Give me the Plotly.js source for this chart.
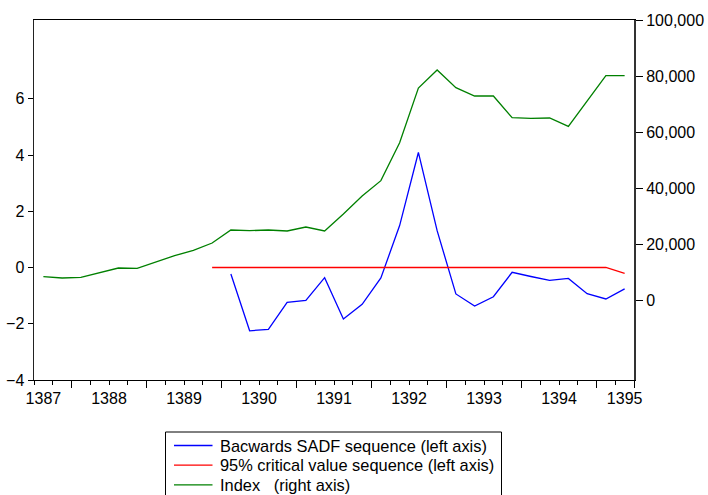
<!DOCTYPE html>
<html>
<head>
<meta charset="utf-8">
<script src="https://cdn.plot.ly/plotly-3.0.1.min.js"></script>
<style>html,body{margin:0;padding:0;background:#fff;}#chart{width:708px;height:495px;}</style>
</head>
<body>
<div id="chart"></div>
<script>
// Quarterly periods 1387Q1 .. 1394Q4
const years = [1387,1388,1389,1390,1391,1392,1393,1394];
const quarters = [];
years.forEach(y => { for (let q = 1; q <= 4; q++) quarters.push(y + 'Q' + q); });

// Index (right axis), 1387Q1 .. 1394Q4
const indexValues = [8320, 7860, 8100, 9880, 11430, 11300, 13570, 15830,
  17740, 20360, 25000, 24760, 25000, 24640, 26070, 24640,
  30710, 37140, 42620, 56180, 75710, 82140, 75830, 72860,
  72860, 65120, 64890, 65000, 62020, 71180, 80120, 80120];

// Backwards SADF sequence (left axis), 1389Q3 .. 1394Q4
const sadfStart = '1389Q3';
const sadfValues = [-0.23, -2.25, -2.20, -1.24, -1.17, -0.36, -1.83, -1.31,
  -0.37, 1.49, 4.09, 1.31, -0.94, -1.37, -1.04, -0.17,
  -0.32, -0.46, -0.39, -0.93, -1.12, -0.76];

// 95% critical value sequence (left axis), 1389Q2 .. 1394Q4
const cvStart = '1389Q2';
const cvValues = [0.0, 0.0, 0.0, 0.0, 0.0, 0.0, 0.0, 0.0, 0.0, 0.0, 0.0, 0.0,
  0.0, 0.0, 0.0, 0.0, 0.0, 0.0, 0.0, 0.0, 0.0, 0.0, -0.21];

const seriesNames = ['Bacwards SADF sequence (left axis)',
  '95% critical value sequence (left axis)',
  'Index   (right axis)'];
const seriesColors = ['#0000ff', '#ff0000', '#008000'];

const xTickLabels = ['1387','1388','1389','1390','1391','1392','1393','1394','1395'];
const leftTicks = [-4, -2, 0, 2, 4, 6];
const rightTicks = [0, 20000, 40000, 60000, 80000, 100000];

// quarter label -> position on a continuous year axis (centre of the quarter)
function qpos(label) {
  const y = parseInt(label.slice(0, 4), 10);
  const q = parseInt(label.slice(5), 10);
  return y + (q - 0.5) / 4;
}
function seriesX(start, n) {
  const i0 = quarters.indexOf(start);
  return quarters.slice(i0, i0 + n).map(qpos);
}

const xIndex = quarters.map(qpos);
const xSadf = seriesX(sadfStart, sadfValues.length);
const xCv = seriesX(cvStart, cvValues.length);

// label positions: years at year start, ends pulled onto first/last observation
const labelPos = xTickLabels.map((t, i) => {
  const v = parseInt(t, 10);
  if (i === 0) return xIndex[0];
  if (i === xTickLabels.length - 1) return xIndex[xIndex.length - 1];
  return v;
});
const midYears = years.map(y => y + 0.5).concat([1395]);

const font = {family: 'Arial, "Liberation Sans", sans-serif', size: 16, color: '#000'};
const legendFont = {family: 'Arial, "Liberation Sans", sans-serif', size: 16.4, color: '#000'};

const traces = [
  {x: xSadf, y: sadfValues, type: 'scatter', mode: 'lines', name: seriesNames[0],
   line: {color: seriesColors[0], width: 1.3}, xaxis: 'x', yaxis: 'y'},
  {x: xCv, y: cvValues, type: 'scatter', mode: 'lines', name: seriesNames[1],
   line: {color: seriesColors[1], width: 1.3}, xaxis: 'x', yaxis: 'y'},
  {x: xIndex, y: indexValues, type: 'scatter', mode: 'lines', name: seriesNames[2],
   line: {color: seriesColors[2], width: 1.3}, xaxis: 'x', yaxis: 'y2'}
];
// dummy trace to activate xaxis2 ticks
traces.push({x: [1387], y: [null], xaxis: 'x2', yaxis: 'y', showlegend: false, hoverinfo: 'skip', mode: 'lines'});

// legend box drawn in pixel terms (EViews style), converted to paper coords
const M = {l: 34, r: 74, t: 20, b: 115};
const W = 708, H = 495;
const pw = W - M.l - M.r, ph = H - M.t - M.b;
const px = p => (p - M.l) / pw;
const py = p => (H - M.b - p) / ph;

const legBox = {x0: 165.5, x1: 501.5, y0: 432, y1: 510};
const legRow0 = 445.5, legRowGap = 19.7;
const shapes = [{type: 'rect', xref: 'paper', yref: 'paper',
  x0: px(legBox.x0), x1: px(legBox.x1), y0: py(legBox.y0), y1: py(legBox.y1),
  line: {color: '#000', width: 1}, fillcolor: '#fff'}];
const annotations = [];
seriesNames.forEach((n, i) => {
  const yy = py(legRow0 + i * legRowGap);
  shapes.push({type: 'line', xref: 'paper', yref: 'paper', x0: px(174), x1: px(212.5), y0: yy, y1: yy,
    line: {color: seriesColors[i], width: 1.3}});
  annotations.push({xref: 'paper', yref: 'paper', x: px(218.5), y: yy, xanchor: 'left', yanchor: 'middle',
    text: n.replace(/ {2,}/g, m => '\u00a0'.repeat(m.length)), showarrow: false, font: legendFont, borderpad: 0});
});

const layout = {
  width: W, height: H,
  margin: {l: M.l, r: M.r, t: M.t, b: M.b, pad: 0, autoexpand: false},
  paper_bgcolor: '#fff', plot_bgcolor: '#fff',
  font: font,
  showlegend: false,
  shapes: shapes,
  annotations: annotations,
  xaxis: {range: [1387, 1395], showgrid: false, zeroline: false,
    showline: true, linecolor: '#000', linewidth: 1, mirror: true,
    tickmode: 'array', tickvals: labelPos, ticktext: xTickLabels,
    ticks: '', ticklabelstandoff: 4,
    minor: {tickmode: 'linear', tick0: 1387, dtick: 0.25, ticks: 'outside', ticklen: 4, tickcolor: '#000', tickwidth: 1, showgrid: false},
    tickfont: font, fixedrange: true},
  xaxis2: {range: [1387, 1395], overlaying: 'x', anchor: 'y', side: 'bottom',
    showgrid: false, zeroline: false, showline: false,
    tickmode: 'array', tickvals: midYears, showticklabels: false,
    ticks: 'outside', ticklen: 7, tickcolor: '#000', tickwidth: 1},
  yaxis: {range: [-4, 8.8], showgrid: false, zeroline: false,
    showline: true, linecolor: '#222', linewidth: 1.5,
    tickmode: 'array', tickvals: leftTicks, ticks: 'outside', ticklen: 5,
    tickcolor: '#000', tickfont: font},
  yaxis2: {range: [-28571, 100000], overlaying: 'y', side: 'right', anchor: 'x',
    showgrid: false, zeroline: false, showline: true, linecolor: '#333', linewidth: 2,
    tickmode: 'array', tickvals: rightTicks, tickformat: ',', ticks: 'outside', ticklen: 7,
    tickcolor: '#000', tickfont: font}
};

Plotly.newPlot('chart', traces, layout, {staticPlot: true, displayModeBar: false});
</script>
</body>
</html>
